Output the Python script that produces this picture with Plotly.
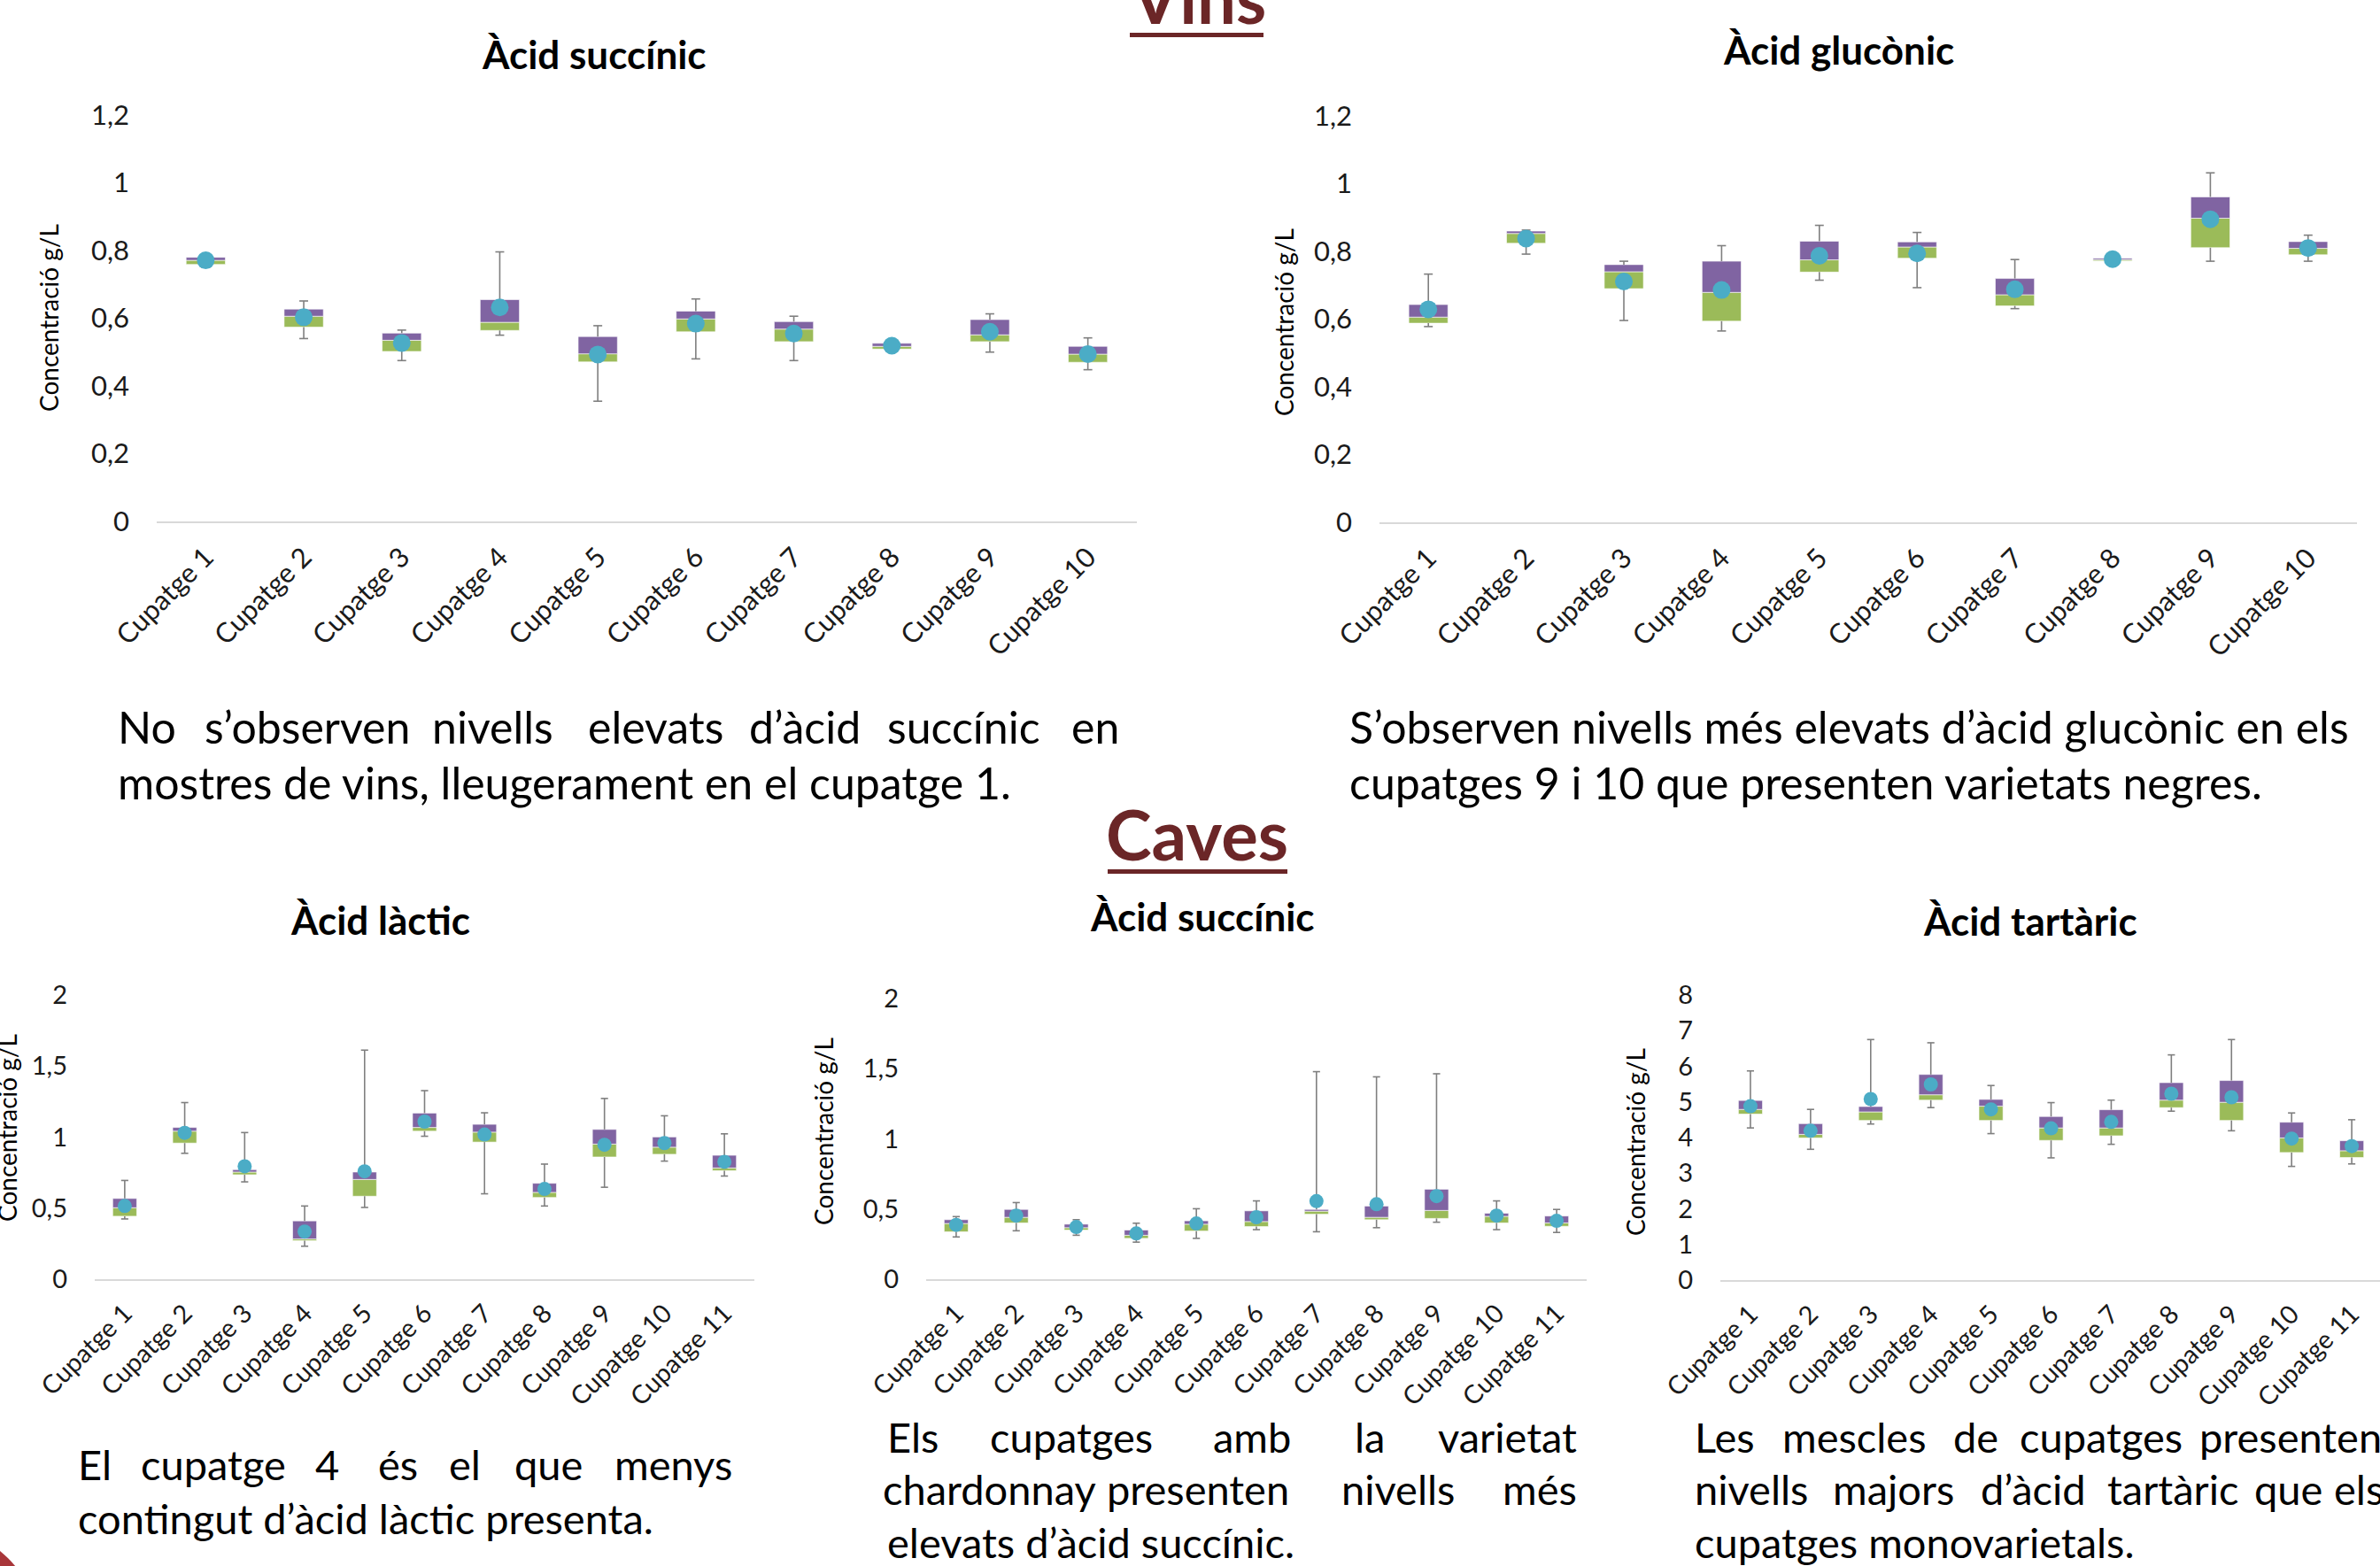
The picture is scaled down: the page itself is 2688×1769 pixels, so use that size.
import plotly.graph_objects as go

W, H = 2688, 1769

# ---------------------------------------------------------------- data
cupatges_vins = ["Cupatge 1", "Cupatge 2", "Cupatge 3", "Cupatge 4", "Cupatge 5",
                 "Cupatge 6", "Cupatge 7", "Cupatge 8", "Cupatge 9", "Cupatge 10"]
cupatges_caves = ["Cupatge 1", "Cupatge 2", "Cupatge 3", "Cupatge 4", "Cupatge 5",
                  "Cupatge 6", "Cupatge 7", "Cupatge 8", "Cupatge 9", "Cupatge 10",
                  "Cupatge 11"]

# Vins - àcid succínic (g/L)
vins_succ_min = [0.75, 0.54, 0.475, 0.55, 0.355, 0.48, 0.475, 0.50, 0.50, 0.448]
vins_succ_q1 = [0.759, 0.574, 0.502, 0.564, 0.471, 0.56, 0.531, 0.509, 0.531, 0.47]
vins_succ_med = [0.771, 0.606, 0.535, 0.588, 0.495, 0.598, 0.568, 0.517, 0.551, 0.494]
vins_succ_q3 = [0.78, 0.627, 0.556, 0.655, 0.546, 0.621, 0.59, 0.526, 0.596, 0.517]
vins_succ_max = [0.782, 0.651, 0.565, 0.796, 0.578, 0.657, 0.606, 0.535, 0.613, 0.542]
vins_succ_mean = [0.771, 0.603, 0.527, 0.632, 0.493, 0.584, 0.555, 0.519, 0.56, 0.494]

# Vins - àcid glucònic (g/L)
vins_gluc_min = [0.578, 0.792, 0.596, 0.565, 0.715, 0.693, 0.631, 0.771, 0.771, 0.771]
vins_gluc_q1 = [0.588, 0.824, 0.69, 0.594, 0.739, 0.78, 0.639, 0.772, 0.811, 0.79]
vins_gluc_med = [0.606, 0.853, 0.74, 0.679, 0.775, 0.813, 0.672, 0.776, 0.898, 0.809]
vins_gluc_q3 = [0.643, 0.86, 0.761, 0.771, 0.83, 0.828, 0.72, 0.78, 0.961, 0.829]
vins_gluc_max = [0.733, 0.863, 0.771, 0.817, 0.877, 0.856, 0.776, 0.781, 1.032, 0.848]
vins_gluc_mean = [0.629, 0.838, 0.711, 0.686, 0.787, 0.794, 0.688, 0.777, 0.895, 0.81]

# Caves - àcid làctic (g/L)
caves_lact_min = [0.424, 0.886, 0.685, 0.232, 0.505, 1.006, 0.601, 0.515, 0.647, 0.831, 0.726]
caves_lact_q1 = [0.443, 0.958, 0.735, 0.271, 0.584, 1.042, 0.965, 0.575, 0.86, 0.879, 0.764]
caves_lact_med = [0.503, 1.042, 0.754, 0.283, 0.702, 1.068, 1.035, 0.611, 0.951, 0.929, 0.783]
caves_lact_q3 = [0.568, 1.068, 0.771, 0.41, 0.754, 1.169, 1.09, 0.675, 1.054, 1.001, 0.872]
caves_lact_max = [0.695, 1.243, 1.032, 0.515, 1.612, 1.327, 1.171, 0.81, 1.272, 1.15, 1.023]
caves_lact_mean = [0.515, 1.03, 0.795, 0.335, 0.759, 1.109, 1.018, 0.635, 0.946, 0.958, 0.826]

# Caves - àcid succínic (g/L)
caves_succ_min = [0.301, 0.345, 0.313, 0.264, 0.291, 0.353, 0.338, 0.367, 0.406, 0.353, 0.333]
caves_succ_q1 = [0.338, 0.401, 0.35, 0.291, 0.343, 0.375, 0.463, 0.424, 0.433, 0.401, 0.377]
caves_succ_med = [0.397, 0.441, 0.367, 0.313, 0.392, 0.411, 0.485, 0.441, 0.49, 0.448, 0.401]
caves_succ_q3 = [0.424, 0.497, 0.392, 0.35, 0.416, 0.487, 0.497, 0.521, 0.641, 0.47, 0.45]
caves_succ_max = [0.446, 0.546, 0.424, 0.399, 0.502, 0.558, 1.479, 1.442, 1.464, 0.558, 0.497]
caves_succ_mean = [0.387, 0.453, 0.372, 0.326, 0.397, 0.441, 0.556, 0.534, 0.592, 0.453, 0.416]

# Caves - àcid tartàric (g/L)
caves_tart_min = [4.27, 3.67, 4.38, 4.84, 4.11, 3.43, 3.81, 4.74, 4.19, 3.19, 3.26]
caves_tart_q1 = [4.66, 3.99, 4.48, 5.05, 4.48, 3.92, 4.05, 4.84, 4.48, 3.58, 3.44]
caves_tart_med = [4.79, 4.09, 4.72, 5.2, 4.88, 4.27, 4.27, 5.05, 4.99, 3.99, 3.63]
caves_tart_q3 = [5.04, 4.39, 4.87, 5.77, 5.07, 4.59, 4.78, 5.54, 5.6, 4.43, 3.91]
caves_tart_max = [5.87, 4.79, 6.75, 6.66, 5.46, 4.98, 5.05, 6.32, 6.75, 4.69, 4.5]
caves_tart_mean = [4.88, 4.19, 5.08, 5.49, 4.79, 4.26, 4.44, 5.23, 5.13, 3.97, 3.76]

# ---------------------------------------------------------------- styling
GREEN = "#9BBB59"
PURPLE = "#8064A2"
AQUA = "#4BACC6"
WHISKER = "#7F7F7F"
MAROON = "#6B2627"
FONT = "Lato"


def px_x(v):
    return v / W


def px_y(v):
    return 1 - v / H


# plot boxes in pixels: left, right, top (max tick), bottom (zero)
panels = [
    dict(cats=cupatges_vins, lo=vins_succ_min, q1=vins_succ_q1, med=vins_succ_med,
         q3=vins_succ_q3, hi=vins_succ_max, mean=vins_succ_mean,
         box=(177, 1284, 130, 589), ymax=1.2, dtick=0.2, dot=20, cap=0.045,
         tick=31, xr=None),
    dict(cats=cupatges_vins, lo=vins_gluc_min, q1=vins_gluc_q1, med=vins_gluc_med,
         q3=vins_gluc_q3, hi=vins_gluc_max, mean=vins_gluc_mean,
         box=(1558, 2662, 131, 590), ymax=1.2, dtick=0.2, dot=20, cap=0.045,
         tick=31, xr=None),
    dict(cats=cupatges_caves, lo=caves_lact_min, q1=caves_lact_q1, med=caves_lact_med,
         q3=caves_lact_q3, hi=caves_lact_max, mean=caves_lact_mean,
         box=(107, 852, 1124, 1445), ymax=2, dtick=0.5, dot=16, cap=0.06,
         tick=29, xr=None),
    dict(cats=cupatges_caves, lo=caves_succ_min, q1=caves_succ_q1, med=caves_succ_med,
         q3=caves_succ_q3, hi=caves_succ_max, mean=caves_succ_mean,
         box=(1046, 1792, 1128, 1445), ymax=2, dtick=0.5, dot=16, cap=0.06,
         tick=29, xr=None),
    dict(cats=cupatges_caves, lo=caves_tart_min, q1=caves_tart_q1, med=caves_tart_med,
         q3=caves_tart_q3, hi=caves_tart_max, mean=caves_tart_mean,
         box=(1943, 2688, 1124, 1446), ymax=8, dtick=1, dot=16, cap=0.06,
         tick=29, xr=[-0.5, 10.47]),
]

fig = go.Figure()
layout_axes = {}

for k, p in enumerate(panels, start=1):
    xa = "x" if k == 1 else f"x{k}"
    ya = "y" if k == 1 else f"y{k}"
    n = len(p["cats"])
    idx = list(range(n))

    # lower half of the box (Q1 -> median)
    fig.add_trace(go.Bar(
        x=idx, y=[m - a for m, a in zip(p["med"], p["q1"])], base=p["q1"],
        width=0.4, marker=dict(color=GREEN, line=dict(color="rgba(255,255,255,0.6)", width=1)),
        xaxis=xa, yaxis=ya, hoverinfo="skip"))
    # upper half of the box (median -> Q3)
    fig.add_trace(go.Bar(
        x=idx, y=[b - m for b, m in zip(p["q3"], p["med"])], base=p["med"],
        width=0.4, marker=dict(color=PURPLE, line=dict(color="rgba(255,255,255,0.6)", width=1)),
        xaxis=xa, yaxis=ya, hoverinfo="skip"))

    # whiskers with caps
    wx, wy = [], []
    c = p["cap"]
    for i in idx:
        wx += [i, i, None, i, i, None, i - c, i + c, None, i - c, i + c, None]
        wy += [p["q3"][i], p["hi"][i], None, p["lo"][i], p["q1"][i], None,
               p["hi"][i], p["hi"][i], None, p["lo"][i], p["lo"][i], None]
    fig.add_trace(go.Scatter(
        x=wx, y=wy, mode="lines", line=dict(color=WHISKER, width=1.6),
        xaxis=xa, yaxis=ya, hoverinfo="skip", cliponaxis=False))

    # mean markers
    fig.add_trace(go.Scatter(
        x=idx, y=p["mean"], mode="markers",
        marker=dict(color=AQUA, size=p["dot"], line=dict(width=0)),
        xaxis=xa, yaxis=ya, cliponaxis=False))

    left, right, top, bottom = p["box"]
    layout_axes["xaxis" if k == 1 else f"xaxis{k}"] = dict(
        domain=[px_x(left), min(1.0, px_x(right))],
        range=p["xr"] if p["xr"] else [-0.5, n - 0.5],
        tickmode="array", tickvals=idx, ticktext=p["cats"], tickangle=-45,
        showline=True, linecolor="#D9D9D9", linewidth=2, showgrid=False,
        zeroline=False, ticks="", ticklabelstandoff=8, automargin=False,
        tickfont=dict(family=FONT, size=p["tick"], color="#1a1a1a"),
        anchor=ya, fixedrange=True)
    layout_axes["yaxis" if k == 1 else f"yaxis{k}"] = dict(
        domain=[px_y(bottom), px_y(top)], range=[0, p["ymax"]],
        tick0=0, dtick=p["dtick"], showgrid=False, zeroline=False,
        showline=False, ticks="", ticklabelstandoff=30, automargin=False,
        tickfont=dict(family=FONT, size=p["tick"], color="#1a1a1a"),
        anchor=xa, fixedrange=True)

annotations = []


def text(s, x, baseline, size, bold=False, xanchor="left", color="#000000"):
    annotations.append(dict(
        text=f"<b>{s}</b>" if bold else s, xref="paper", yref="paper",
        x=px_x(x), y=px_y(baseline - 0.387 * size), xanchor=xanchor,
        yanchor="middle", showarrow=False,
        font=dict(family=FONT, size=size, color=color)))


def justified(items, baseline, size):
    """Words of a justified line: (word, x, anchor) with anchor left/center/right."""
    for w, x, a in items:
        text(w, x, baseline, size, xanchor=a)


# section headers
text("Vins", 1353, 27, 78, bold=True, xanchor="center", color=MAROON)
text("Caves", 1352, 972, 78, bold=True, xanchor="center", color=MAROON)

# chart titles
TITLE = 44
text("Àcid succínic", 671, 78, TITLE, bold=True, xanchor="center")
text("Àcid glucònic", 2076, 73, TITLE, bold=True, xanchor="center")
text("Àcid làctic", 430, 1056, TITLE, bold=True, xanchor="center")
text("Àcid succínic", 1358, 1052, TITLE, bold=True, xanchor="center")
text("Àcid tartàric", 2293, 1057, TITLE, bold=True, xanchor="center")

# y axis titles
for cx, cy in [(55, 359), (1450, 364), (8, 1274), (930, 1278), (1847, 1290)]:
    annotations.append(dict(
        text="Concentració g/L", xref="paper", yref="paper", x=px_x(cx), y=px_y(cy),
        xanchor="center", yanchor="middle", textangle=-90, showarrow=False,
        font=dict(family=FONT, size=28, color="#000000")))

# commentary
BODY_TOP = 50
BODY_LOW = 47
justified([("No", 131, "left"), ("s’observen", 347, "center"), ("nivells", 556, "center"),
           ("elevats", 740, "center"), ("d’àcid", 909, "center"),
           ("succínic", 1088, "center"), ("en", 1266, "right")], 840, BODY_TOP)
text("mostres de vins, lleugerament en el cupatge 1.", 131, 903, BODY_TOP)
text("S’observen nivells més elevats d’àcid glucònic en els", 1522, 840, BODY_TOP)
text("cupatges 9 i 10 que presenten varietats negres.", 1522, 903, BODY_TOP)

justified([("El", 86, "left"), ("cupatge", 241, "center"), ("4", 369, "center"),
           ("és", 449, "center"), ("el", 525, "center"), ("que", 619, "center"),
           ("menys", 829, "right")], 1672, BODY_LOW)
text("contingut d’àcid làctic presenta.", 86, 1733, BODY_LOW)

justified([("Els", 1000, "left"), ("cupatges", 1210, "center"), ("amb", 1414, "center"),
           ("la", 1547, "center"), ("varietat", 1783, "right")], 1641, BODY_LOW)
justified([("chardonnay", 1117, "center"), ("presenten", 1353, "center"),
           ("nivells", 1579, "center"), ("més", 1783, "right")], 1700, BODY_LOW)
text("elevats d’àcid succínic.", 1000, 1760, BODY_LOW)

justified([("Les", 1912, "left"), ("mescles", 2094, "center"), ("de", 2231, "center"),
           ("cupatges", 2373, "center"), ("presenten", 2587, "center")], 1641, BODY_LOW)
justified([("nivells", 1912, "left"), ("majors", 2138, "center"), ("d’àcid", 2296, "center"),
           ("tartàric", 2454, "center"), ("que", 2584, "center"), ("els", 2634, "left")],
          1700, BODY_LOW)
text("cupatges monovarietals.", 1912, 1760, BODY_LOW)

shapes = [
    # header underlines
    dict(type="rect", xref="paper", yref="paper", x0=px_x(1276), x1=px_x(1427),
         y0=px_y(42), y1=px_y(37), fillcolor=MAROON, line=dict(width=0)),
    dict(type="rect", xref="paper", yref="paper", x0=px_x(1251), x1=px_x(1454),
         y0=px_y(987), y1=px_y(982), fillcolor=MAROON, line=dict(width=0)),
    # decorative disc in the lower-left corner
    dict(type="circle", xref="paper", yref="paper", x0=px_x(-254), x1=px_x(54),
         y0=px_y(2023), y1=px_y(1715), fillcolor="#A8363A", line=dict(width=0)),
]

fig.update_layout(
    template="none",
    width=W, height=H, margin=dict(l=0, r=0, t=0, b=0, autoexpand=False),
    paper_bgcolor="white", plot_bgcolor="white", showlegend=False,
    barmode="overlay", separators=", ", font=dict(family=FONT, color="#000000"),
    annotations=annotations, shapes=shapes, **layout_axes)

fig.write_html("out.html")
